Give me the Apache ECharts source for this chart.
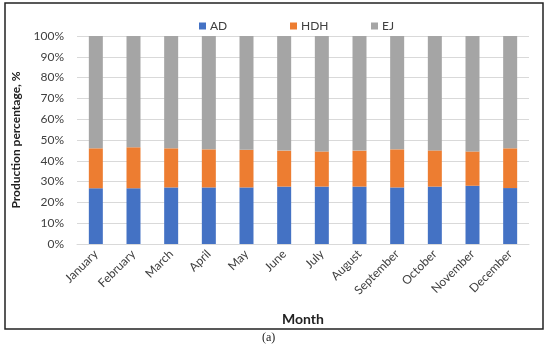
<!DOCTYPE html>
<html><head><meta charset="utf-8">
<script src="https://cdn.jsdelivr.net/npm/echarts@6/dist/echarts.min.js"></script>
<style>html,body{margin:0;padding:0;background:#fff}#c{width:550px;height:352px}</style>
</head><body><div id="c"></div>
<script>
const months = ['January','February','March','April','May','June','July','August','September','October','November','December'];
const AD  = [26.8, 26.8, 27.2, 27.2, 27.2, 27.6, 27.6, 27.6, 27.2, 27.6, 28.0, 26.9];
const HDH = [19.2, 19.7, 18.8, 18.3, 18.1, 17.3, 16.9, 17.3, 18.3, 17.4, 16.5, 19.1];
const EJ  = [54.0, 53.5, 54.0, 54.5, 54.7, 55.1, 55.5, 55.1, 54.5, 55.0, 55.5, 54.0];
const yTicks = [0,10,20,30,40,50,60,70,80,90,100];

const font = 'Lato, "Liberation Sans", sans-serif';
const chart = echarts.init(document.getElementById('c'));
const legendBase = {top: 15, itemWidth: 7, itemHeight: 7, icon: 'rect', itemGap: 5,
  textStyle: {fontFamily: font, fontSize: 12, color: '#404040', padding: [0,0,0,-1]}};
chart.setOption({
  animation: false,
  textStyle: {fontFamily: font},
  graphic: [
    {type: 'rect', shape: {x: 5, y: 3, width: 538, height: 326}, style: {fill: 'none', stroke: '#222', lineWidth: 1.5}, z: 100},
    {type: 'text', left: 262, top: 332, style: {text: '(a)', font: '12px "Liberation Serif", serif', fill: '#222'}}
  ],
  legend: [
    Object.assign({}, legendBase, {left: 194, data: ['AD']}),
    Object.assign({}, legendBase, {left: 285, data: ['HDH']}),
    Object.assign({}, legendBase, {left: 366, data: ['EJ']})
  ],
  grid: {left: 77, right: 21, top: 36, bottom: 108},
  xAxis: {
    type: 'category', data: months,
    name: 'Month', nameLocation: 'middle', nameGap: 68,
    nameTextStyle: {fontFamily: font, fontSize: 14, fontWeight: 'bold', color: '#222'},
    axisLine: {lineStyle: {color: '#d9d9d9'}},
    axisTick: {show: false},
    axisLabel: {rotate: 45, interval: 0, fontSize: 12, color: '#404040', margin: 8}
  },
  yAxis: {
    type: 'value', min: 0, max: 100, interval: 10,
    name: 'Production percentage, %', nameLocation: 'middle', nameGap: 54,
    nameTextStyle: {fontFamily: font, fontSize: 12, fontWeight: 'bold', color: '#222'},
    axisLabel: {formatter: v => yTicks.includes(v) ? v + '%' : '', fontSize: 12, color: '#404040', margin: 13},
    axisLine: {show: false}, axisTick: {show: false},
    splitLine: {lineStyle: {color: '#d9d9d9'}}
  },
  series: [
    {name: 'AD', type: 'bar', stack: 's', data: AD, barWidth: 14, itemStyle: {color: '#4472C4'}},
    {name: 'HDH', type: 'bar', stack: 's', data: HDH, barWidth: 14, itemStyle: {color: '#ED7D31'}},
    {name: 'EJ', type: 'bar', stack: 's', data: EJ, barWidth: 14, itemStyle: {color: '#A5A5A5'}}
  ]
});
</script></body></html>
